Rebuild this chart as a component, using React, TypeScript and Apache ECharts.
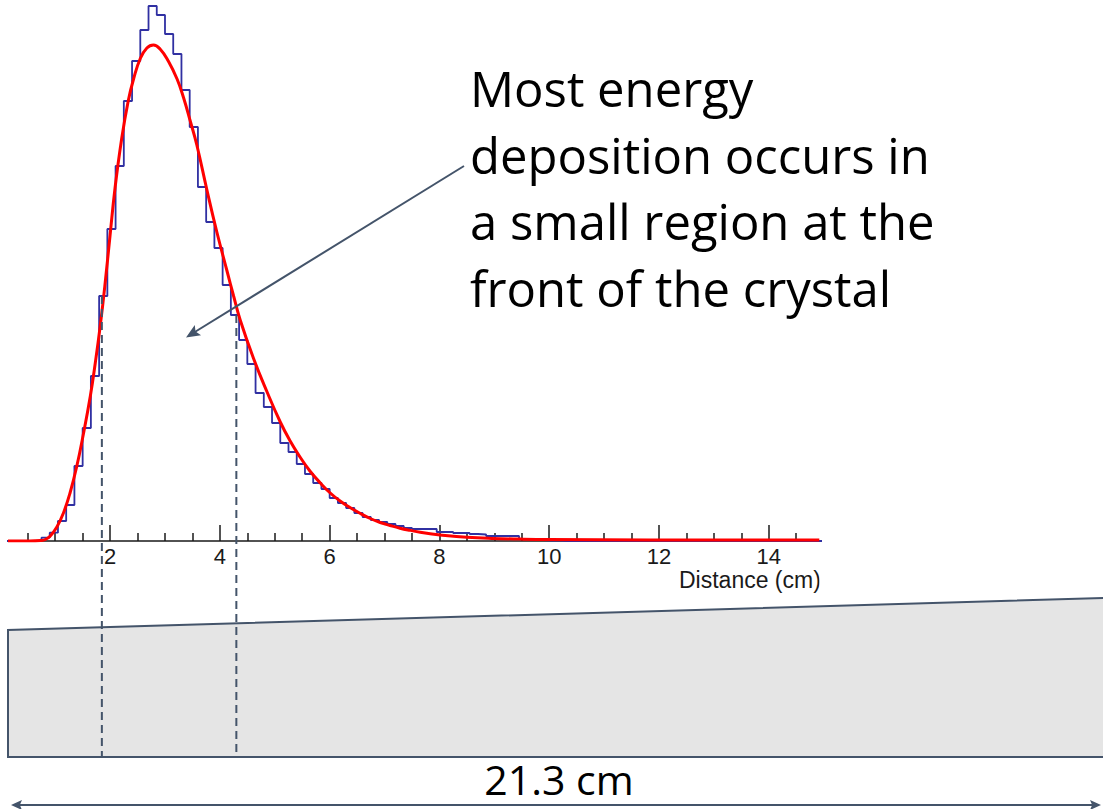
import React, { useEffect, useRef } from "react";
import * as echarts from "echarts";

// ---------- data ----------
const BIN_WIDTH = 0.15; // cm, 100 bins over 0..15 cm
const histCounts = [
  0, 0, 0, 0, 0, 3.3, 8.3, 20, 36, 75,
  113, 165, 245, 312, 375, 440, 480, 511, 535, 526,
  507, 487, 451, 414, 354, 319, 293, 256, 226, 201,
  177, 148, 134, 118, 98, 89, 77, 67, 58, 52,
  43, 38, 33, 28, 24, 21, 19, 17, 15, 13,
  12, 12, 12, 9, 9, 8, 8, 7, 6.5, 5,
  5, 5, 5, 2, 1.5, 1, 0.5, 0.5, 0, 0,
  0, 0, 0, 0, 0, 0, 0, 0, 0, 0,
  0, 0, 0, 0, 0, 0, 0, 0, 0, 0,
  0, 0, 0, 0, 0, 0, 0, 0, 0, 0,
];

const fitX = [
  0.14, 0.54, 0.73, 0.82, 0.91, 1.03, 1.15, 1.27, 1.39, 1.51,
  1.64, 1.73, 1.82, 1.91, 2.0, 2.09, 2.21, 2.33, 2.43, 2.55,
  2.67, 2.79, 2.91, 3.06, 3.22, 3.34, 3.46, 3.58, 3.76, 3.94,
  4.13, 4.25, 4.37, 4.61, 4.86, 5.1, 5.28, 5.46, 5.64, 5.83,
  6.01, 6.19, 6.37, 6.56, 6.74, 6.92, 7.1, 7.28, 7.47, 7.65,
  7.83, 8.01, 8.5, 8.95, 9.47, 10.0, 11.84, 14.92,
];
const fitY = [
  0, 0, 0.5, 1.5, 5, 14, 28, 48, 74, 106,
  145, 178, 215, 258, 306, 353, 402, 440, 462.5, 482.5,
  493, 496, 492, 480, 462, 443, 420, 396, 352, 310,
  270, 245, 221, 183, 149, 119, 100, 84, 70, 58,
  48, 40, 33.5, 27.5, 22.5, 18.5, 15.5, 12.8, 10.6, 8.8,
  7.3, 6.1, 3.8, 2.6, 1.9, 1.5, 1.1, 1,
];

const xMin = 0.14;
const xMax = 14.92;
const majorTicks = [2, 4, 6, 8, 10, 12, 14];
const minorTicks = [0.5, 1, 1.5, 2.5, 3, 3.5, 4.5, 5, 5.5, 6.5, 7, 7.5, 8.5, 9, 9.5, 10.5, 11, 11.5, 12.5, 13, 13.5, 14.5];
const regionEdges = [1.85, 4.3]; // cm, dashed markers
const xAxisTitle = "Distance (cm)";
const noteLines = ["Most energy", "deposition occurs in", "a small region at the", "front of the crystal"];
const crystalLength = "21.3 cm";

// ---------- styles / layout ----------
const SLATE = "#44546a";
const CRYSTAL_BOTTOM = 757;

function arrowHead(tip: number[], from: number[], len: number, half: number) {
  const dx = from[0] - tip[0];
  const dy = from[1] - tip[1];
  const l = Math.hypot(dx, dy);
  const ux = dx / l, uy = dy / l;
  const bx = tip[0] + ux * len, by = tip[1] + uy * len;
  const nx = -uy, ny = ux;
  const notch = [tip[0] + ux * len * 0.8, tip[1] + uy * len * 0.8];
  return [tip, [bx + nx * half, by + ny * half], notch, [bx - nx * half, by - ny * half]];
}

export default function App() {
  const ref = useRef<HTMLDivElement>(null);
  useEffect(() => {
    if (!ref.current) return;
    const chart = echarts.init(ref.current, undefined, { renderer: "svg" });

    const histData: number[][] = histCounts.map((v, k) => [k * BIN_WIDTH, v]);
    histData.push([histCounts.length * BIN_WIDTH, 0]);
    const fitData = fitX.map((x, i) => [x, fitY[i]]);
    const markerData = regionEdges.map((x) => [x, histCounts[Math.floor(x / BIN_WIDTH)]]);

    const arrowFrom = [464, 166];
    const arrowTip = [186, 337.5];
    const dblY = 805;
    const dblL = [11, dblY];
    const dblR = [1101, dblY];

    const textStyle = { fontFamily: "Open Sans", fontSize: 49, fill: "#000" };

    chart.setOption({
      animation: false,
      backgroundColor: "#fff",
      grid: { left: 8, right: 1103 - 819.3, top: 0, bottom: 809 - 541, containLabel: false },
      xAxis: [
        {
          type: "value",
          min: xMin,
          max: xMax,
          position: "bottom",
          axisLine: { show: true, onZero: false, lineStyle: { color: "#1a1a1a", width: 1.5 } },
          axisTick: { show: true, inside: true, length: 16, customValues: majorTicks, lineStyle: { color: "#1a1a1a", width: 1.5 } },
          axisLabel: {
            show: true,
            customValues: majorTicks,
            margin: 5,
            lineHeight: 20,
            color: "#1a1a1a",
            fontFamily: "Liberation Sans",
            fontSize: 22,
          },
          splitLine: { show: false },
        },
        {
          type: "value",
          min: xMin,
          max: xMax,
          position: "bottom",
          axisLine: { show: false },
          axisTick: { show: true, inside: true, length: 8, customValues: minorTicks, lineStyle: { color: "#1a1a1a", width: 1.5 } },
          axisLabel: { show: false },
          splitLine: { show: false },
        },
      ],
      yAxis: { type: "value", min: 0, max: 541, show: false, splitLine: { show: false } },
      series: [
        {
          type: "line",
          name: "histogram",
          data: histData,
          step: "end",
          showSymbol: false,
          symbol: "none",
          lineStyle: { color: "#3030a2", width: 1.8 },
          z: 3,
        },
        {
          type: "line",
          name: "fit",
          data: fitData,
          smooth: 0.45,
          showSymbol: false,
          symbol: "none",
          lineStyle: { color: "#ff0000", width: 3 },
          z: 4,
        },
        {
          type: "custom",
          name: "region",
          data: markerData,
          clip: false,
          silent: true,
          z: 6,
          renderItem: (params: any, api: any) => {
            const p = api.coord([api.value(0), api.value(1)]);
            return {
              type: "line",
              shape: { x1: p[0], y1: p[1], x2: p[0], y2: CRYSTAL_BOTTOM },
              style: { stroke: SLATE, lineWidth: 2, lineDash: [8, 5], fill: null },
            };
          },
        },
      ],
      graphic: [
        // crystal
        {
          type: "polygon",
          z: 1,
          shape: { points: [[8, 630], [1104, 598], [1104, CRYSTAL_BOTTOM], [8, CRYSTAL_BOTTOM]] },
          style: { fill: "#e5e5e5", stroke: null },
        },
        {
          type: "polyline",
          z: 1,
          shape: { points: [[1104, 598], [8, 630], [8, CRYSTAL_BOTTOM], [1104, CRYSTAL_BOTTOM]] },
          style: { stroke: SLATE, lineWidth: 2, fill: null },
        },
        // annotation arrow
        {
          type: "line",
          z: 20,
          shape: { x1: arrowFrom[0], y1: arrowFrom[1], x2: arrowTip[0] + 8, y2: arrowTip[1] - 5 },
          style: { stroke: SLATE, lineWidth: 2 },
        },
        {
          type: "polygon",
          z: 20,
          shape: { points: arrowHead(arrowTip, arrowFrom, 14, 6) },
          style: { fill: SLATE },
        },
        // length arrow
        {
          type: "line",
          z: 20,
          shape: { x1: dblL[0] + 6, y1: dblY, x2: dblR[0] - 6, y2: dblY },
          style: { stroke: SLATE, lineWidth: 2 },
        },
        { type: "polygon", z: 20, shape: { points: arrowHead(dblL, dblR, 11, 5) }, style: { fill: SLATE } },
        { type: "polygon", z: 20, shape: { points: arrowHead(dblR, dblL, 11, 5) }, style: { fill: SLATE } },
        // annotation text
        ...noteLines.map((t, i) => ({
          type: "text",
          z: 20,
          x: 470,
          y: 88 + i * 66.7,
          style: { ...textStyle, text: t, align: "left", verticalAlign: "middle" },
        })),
        {
          type: "text",
          z: 20,
          x: 559,
          y: 779,
          style: { fontFamily: "Open Sans", fontSize: 41, fill: "#000", text: crystalLength, align: "center", verticalAlign: "middle" },
        },
        // axis title (cropped at the right, as in the source image)
        {
          type: "text",
          z: 20,
          x: 679,
          y: 580,
          style: { fontFamily: "Liberation Sans", fontSize: 23, lineHeight: 20, fill: "#1a1a1a", text: xAxisTitle, align: "left", verticalAlign: "middle" },
        },
        {
          type: "rect",
          z: 21,
          shape: { x: 819.5, y: 566, width: 60, height: 28 },
          style: { fill: "#fff" },
        },
      ],
    });
    return () => chart.dispose();
  }, []);
  return <div ref={ref} style={{ position: "absolute", left: 0, top: 0, width: 1103, height: 809 }} />;
}
